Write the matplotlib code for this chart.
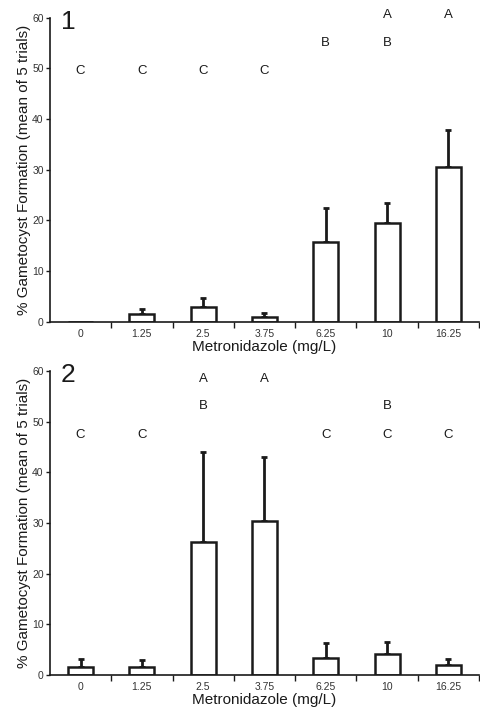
import matplotlib
matplotlib.use("Agg")
from matplotlib import pyplot as plt

plt.rcParams['font.family'] = ['Liberation Sans', 'DejaVu Sans']

doses = ['0', '1.25', '2.5', '3.75', '6.25', '10', '16.25']

# panel 1
mean1 = [0.0, 1.5, 2.9, 1.0, 15.8, 19.6, 30.6]
err1 = [0.0, 1.0, 1.9, 0.7, 6.7, 3.9, 7.3]
letters1 = [['C'], ['C'], ['C'], ['C'], ['B'], ['A', 'B'], ['A']]

# panel 2
mean2 = [1.6, 1.5, 26.3, 30.4, 3.3, 4.2, 2.0]
err2 = [1.6, 1.4, 17.8, 12.7, 3.0, 2.4, 1.1]
letters2 = [['C'], ['C'], ['A', 'B'], ['A'], ['C'], ['B', 'C'], ['C']]

letter_y = {'A': 60.5, 'B': 55, 'C': 49.5}
letter_y2 = {'A': 58.5, 'B': 53, 'C': 47.3}

ink = '#1a1a1a'

fig = plt.figure(figsize=(4.8, 7.12), dpi=100)
ax1 = fig.add_axes([0.104, 0.548, 0.894, 0.427])
ax2 = fig.add_axes([0.104, 0.052, 0.894, 0.427])


def draw(ax, mean, err, letters, ly, tag):
    x = list(range(len(doses)))
    ax.bar(x, mean, width=0.41, color='white', edgecolor=ink, linewidth=1.8, zorder=2)
    for xi, m, e in zip(x, mean, err):
        if e > 0:
            ax.errorbar(xi, m, yerr=[[0], [e]], fmt='none', ecolor=ink,
                        elinewidth=2, capsize=2, capthick=2, zorder=1)
    for xi, labs in zip(x, letters):
        for lab in labs:
            ax.text(xi, ly[lab], lab, ha='center', va='center', fontsize=9.5, color=ink)
    ax.set_xlim(-0.5, 6.5)
    ax.set_ylim(0, 60)
    ax.set_yticks([0, 10, 20, 30, 40, 50, 60])
    ax.set_xticks(x)
    ax.set_xticklabels(doses)
    ax.set_xticks([i + 0.5 for i in x], minor=True)
    ax.tick_params(axis='x', which='major', length=0, labelsize=7.5, pad=5, colors='#333333')
    ax.tick_params(axis='x', which='minor', length=4, width=1, direction='out', color=ink)
    ax.tick_params(axis='y', length=3, width=1, labelsize=7.5, colors='#333333', pad=1.5)
    ax.tick_params(axis='y', color=ink)
    for s in ['top', 'right']:
        ax.spines[s].set_visible(False)
    for s in ['left', 'bottom']:
        ax.spines[s].set_color(ink)
        ax.spines[s].set_linewidth(1.2)
    ax.set_xlabel('Metronidazole (mg/L)', fontsize=11, color=ink, labelpad=1)
    ax.set_ylabel('% Gametocyst Formation (mean of 5 trials)', fontsize=11, color=ink, labelpad=1)
    ax.text(-0.32, 61.5, tag, ha='left', va='top', fontsize=19, color=ink)


draw(ax1, mean1, err1, letters1, letter_y, '1')
draw(ax2, mean2, err2, letters2, letter_y2, '2')

fig.savefig('out.png', dpi=100)
